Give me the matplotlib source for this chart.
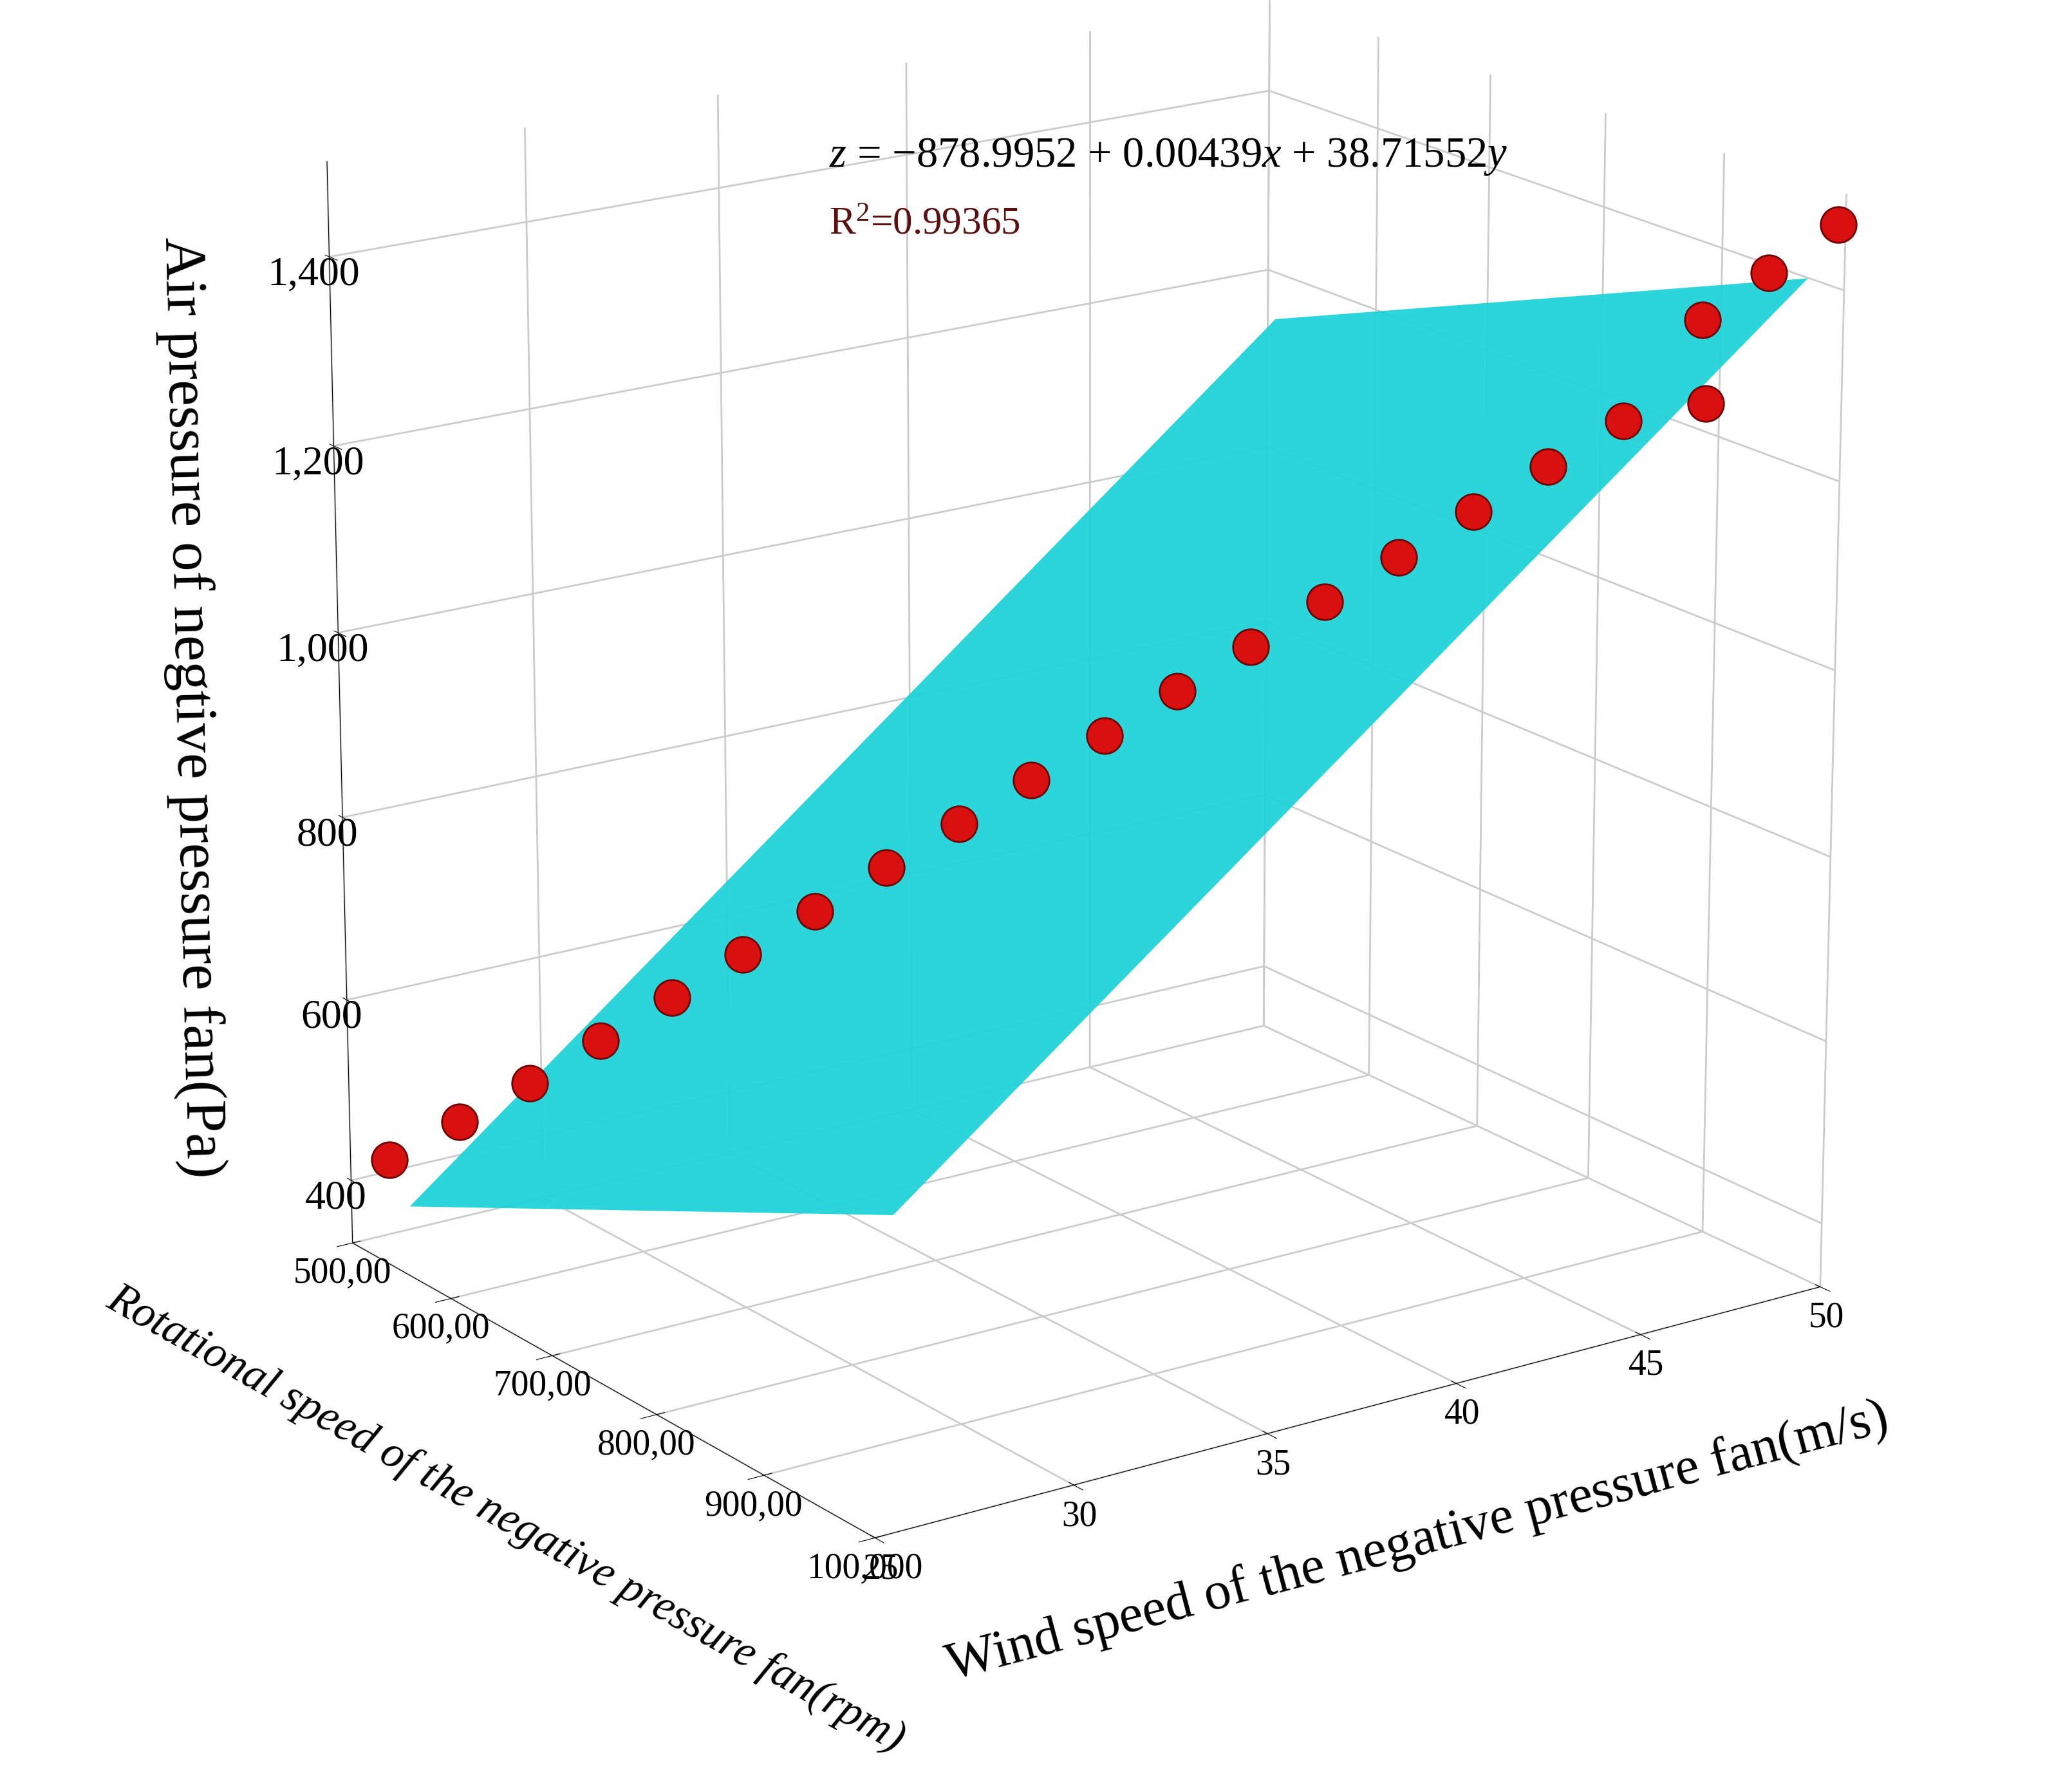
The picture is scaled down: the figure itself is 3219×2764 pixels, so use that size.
import matplotlib
matplotlib.use("Agg")
import matplotlib.pyplot as plt
import numpy as np

plt.rcParams['font.family'] = ['Liberation Serif', 'DejaVu Serif']
plt.rcParams['mathtext.fontset'] = 'custom'
plt.rcParams['mathtext.rm'] = 'Liberation Serif'
plt.rcParams['mathtext.it'] = 'Liberation Serif:italic'

rot_speed = [520, 545, 570, 595, 620, 645, 670, 695, 720, 745, 770, 795,
             820, 845, 870, 895, 920, 945, 960, 985, 980, 1000]
wind_speed = [25.5, 26.7, 27.9, 29.1, 30.3, 31.5, 32.7, 33.9, 35.1, 36.3, 37.5, 38.7,
              39.9, 41.1, 42.3, 43.5, 44.7, 45.9, 47.5, 46.8, 48.6, 49.8]
pressure = [430, 475, 520, 570, 620, 670, 720, 770, 820, 870, 920, 970,
            1020, 1070, 1120, 1170, 1220, 1270, 1370, 1300, 1420, 1470]
plane_x = [540, 1000]
plane_y = [25.5, 49]
plane_z = [[390, 1170], [660, 1420]]  # [x][y]
xticks = [500, 600, 700, 800, 900, 1000]
xticklabels = ['500,00', '600,00', '700,00', '800,00', '900,00', '100,000']
yticks = [25, 30, 35, 40, 45, 50]
zticks = [400, 600, 800, 1000, 1200, 1400]

fig = plt.figure(figsize=(32.19, 27.64), dpi=100)
ax = fig.add_subplot(111, projection='3d', computed_zorder=False)
ax.set_position([-0.01, 0.045, 1.04, 1.06])
ax.set_box_aspect((1.09, 1.31, 1.3), zoom=0.97)

X, Y = np.meshgrid(plane_x, plane_y, indexing='ij')
Z = np.array(plane_z)
ax.plot_surface(X, Y, Z, color='#1fd3d8', alpha=0.95, shade=False, linewidth=0, zorder=1)
ax.scatter(rot_speed, wind_speed, pressure, s=1600, c='#d8100f', edgecolors='#700000',
           linewidths=2, depthshade=False, alpha=1, zorder=5)

ax.set_xlim(500, 1000); ax.set_ylim(25, 50); ax.set_zlim(330, 1500)
ax.set_xticks(xticks); ax.set_xticklabels(xticklabels, fontsize=40)
ax.set_yticks(yticks); ax.set_yticklabels([str(v) for v in yticks], fontsize=40)
ax.set_zticks(zticks); ax.set_zticklabels(['{:,}'.format(v) for v in zticks], fontsize=46)
ax.set_xlabel('Rotational speed of the negative pressure fan(rpm)', fontsize=50, fontstyle='italic', labelpad=90)
ax.set_ylabel('Wind speed of the negative pressure fan(m/s)', fontsize=60, labelpad=85)
ax.set_zlabel('Air pressure of negtive pressure fan(Pa)', fontsize=66, labelpad=90)
ax.zaxis._axinfo['juggled'] = (1, 2, 0)
for a in (ax.xaxis, ax.yaxis, ax.zaxis):
    a.set_pane_color((1, 1, 1, 0))
    a._axinfo['grid']['color'] = (0.8, 0.8, 0.8, 1)
    a._axinfo['grid']['linewidth'] = 2
ax.view_init(elev=18, azim=-35)
fig.text(0.40, 0.912, r'$z$ = $-$878.9952 + 0.00439$x$ + 38.71552$y$', fontsize=48, va='center')
fig.text(0.40, 0.874, r'R$^2$=0.99365', fontsize=44, color='#5a1010', va='center')
fig.savefig('out.png', dpi=100)
